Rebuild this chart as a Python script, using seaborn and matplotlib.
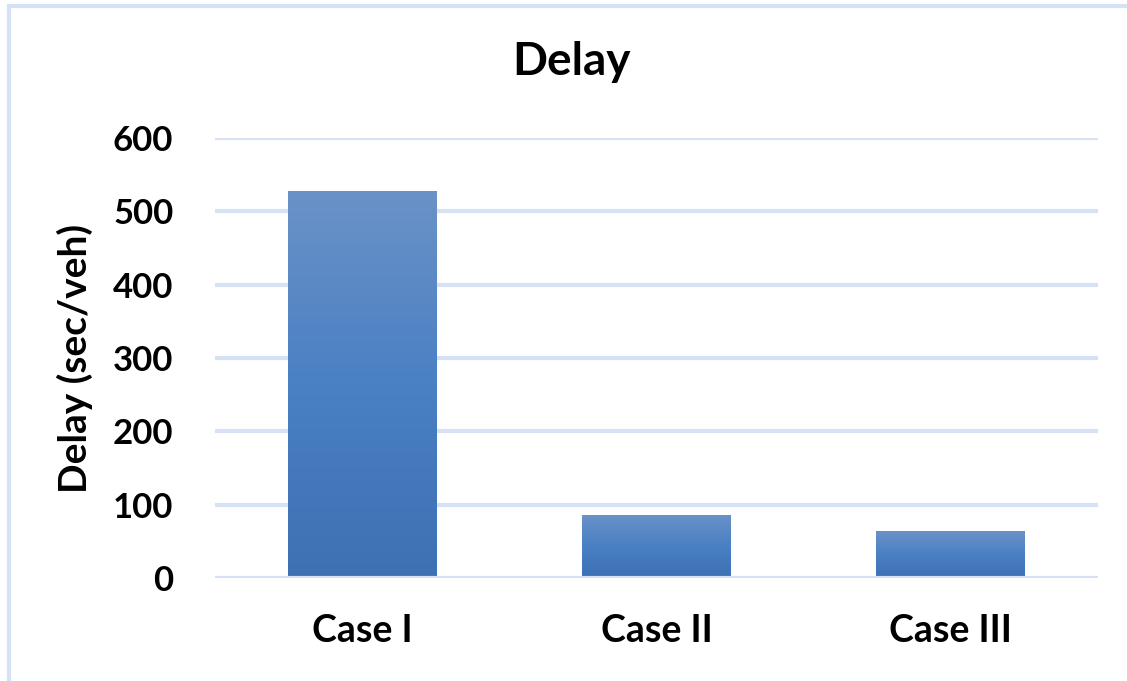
import numpy as np
import pandas as pd
import matplotlib
matplotlib.use("Agg")
import matplotlib.pyplot as plt
import seaborn as sns
from matplotlib.colors import LinearSegmentedColormap
from matplotlib.patches import Rectangle

# datos
cases = ["Case I", "Case II", "Case III"]
delay = [528, 86, 64]
y_ticks = [0, 100, 200, 300, 400, 500, 600]

sns.set_theme(style="white")
plt.rcParams["font.family"] = ["Lato", "DejaVu Sans"]
plt.rcParams["text.color"] = "black"
plt.rcParams["xtick.color"] = "black"
plt.rcParams["ytick.color"] = "black"
plt.rcParams["axes.labelcolor"] = "black"

df = pd.DataFrame({"case": cases, "delay": delay})

fig = plt.figure(figsize=(11.27, 6.81), dpi=100)
ax = fig.add_axes([0.1908, 0.1512, 0.7835, 0.6462])

sns.barplot(data=df, x="case", y="delay", color="#4A7EBF", width=0.506, ax=ax, zorder=3)

# degradado de las barras
cmap = LinearSegmentedColormap.from_list("grad", ["#3C71B3", "#4A80C4", "#6A92C7"])
grad = np.linspace(0, 1, 256).reshape(-1, 1)
for bar in ax.patches:
    x0, y0 = bar.get_x(), bar.get_y()
    w, h = bar.get_width(), bar.get_height()
    im = ax.imshow(grad, cmap=cmap, aspect="auto", origin="lower",
                   extent=[x0, x0 + w, y0, y0 + h], zorder=4)
    im.set_clip_path(bar)
    bar.set_facecolor("none")
    bar.set_edgecolor("none")

ax.set_xlim(-0.5, 2.5)
ax.set_ylim(0, 600)
ax.set_yticks(y_ticks)
ax.set_yticklabels([str(t) for t in y_ticks])
for t in y_ticks:
    ax.axhline(t, color="#D6E2F3", lw=3, zorder=1 if t else 5)

for s in ax.spines.values():
    s.set_visible(False)
ax.tick_params(axis="both", length=0)
ax.tick_params(axis="y", labelsize=25, pad=30)
ax.tick_params(axis="x", labelsize=27, pad=26)
for lab in ax.get_xticklabels() + ax.get_yticklabels():
    lab.set_fontweight("bold")

ax.set_xlabel("")
ax.set_ylabel("Delay (sec/veh)", fontsize=28, fontweight="bold")
ax.yaxis.set_label_coords(-0.1585, 0.5)
ax.yaxis.label.set_verticalalignment("center")
fig.text(0.507, 0.909, "Delay", ha="center", va="center", fontsize=33, fontweight="bold")

# borde del grafico
fig.patches.append(Rectangle((0.008, -0.01), 1.1, 1.001, transform=fig.transFigure,
                             fill=False, edgecolor="#D6E2F3", lw=3))

fig.savefig("out.png", dpi=100)
